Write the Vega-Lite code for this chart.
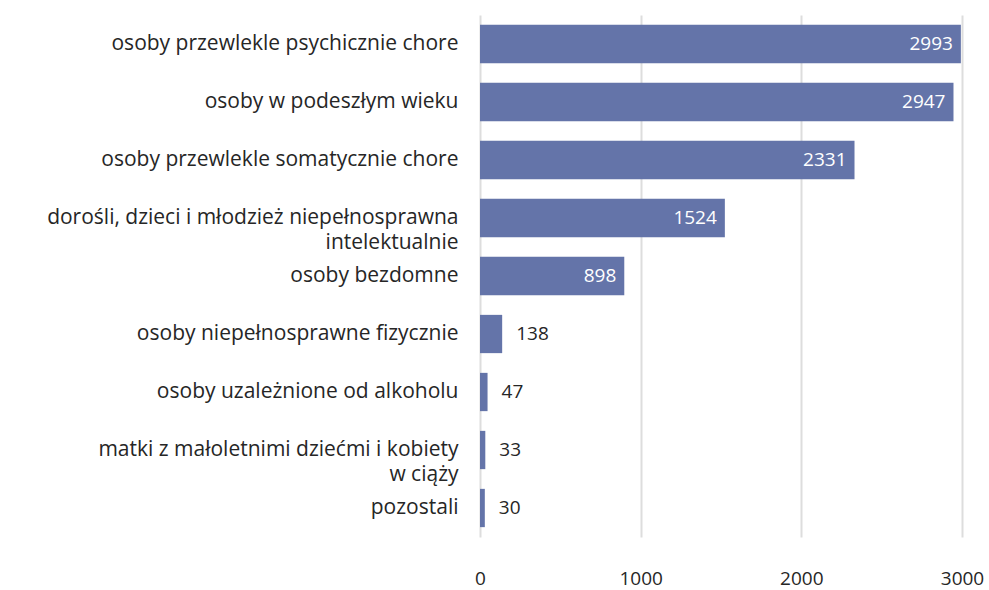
{
  "$schema": "https://vega.github.io/schema/vega-lite/v6.json",
  "autosize": {"type": "none"},
  "width": 482,
  "height": 522,
  "padding": {"left": 480, "top": 15, "right": 27, "bottom": 53},
  "background": "white",
  "config": {
    "view": {"stroke": null},
    "font": "Open Sans"
  },
  "data": {
    "values": [
      {"kat": "osoby przewlekle psychicznie chore", "v": 2993},
      {"kat": "osoby w podeszłym wieku", "v": 2947},
      {"kat": "osoby przewlekle somatycznie chore", "v": 2331},
      {"kat": "dorośli, dzieci i młodzież niepełnosprawna|intelektualnie", "v": 1524},
      {"kat": "osoby bezdomne", "v": 898},
      {"kat": "osoby niepełnosprawne fizycznie", "v": 138},
      {"kat": "osoby uzależnione od alkoholu", "v": 47},
      {"kat": "matki z małoletnimi dziećmi i kobiety|w ciąży", "v": 33},
      {"kat": "pozostali", "v": 30}
    ]
  },
  "encoding": {
    "y": {
      "field": "kat",
      "type": "nominal",
      "sort": [
        "osoby przewlekle psychicznie chore",
        "osoby w podeszłym wieku",
        "osoby przewlekle somatycznie chore",
        "dorośli, dzieci i młodzież niepełnosprawna|intelektualnie",
        "osoby bezdomne",
        "osoby niepełnosprawne fizycznie",
        "osoby uzależnione od alkoholu",
        "matki z małoletnimi dziećmi i kobiety|w ciąży",
        "pozostali"
      ],
      "scale": {"paddingInner": 0.34, "paddingOuter": 0.17},
      "axis": {
        "title": null,
        "domain": false,
        "ticks": false,
        "labelPadding": 22,
        "labelFontSize": 21,
        "labelColor": "#262626",
        "labelLimit": 480,
        "labelLineHeight": 25,
        "labelExpr": "split(datum.label, '|')"
      }
    },
    "x": {
      "field": "v",
      "type": "quantitative",
      "scale": {"domain": [0, 3000], "nice": false},
      "axis": {
        "title": null,
        "domain": false,
        "ticks": false,
        "values": [0, 1000, 2000, 3000],
        "format": "d",
        "labelPadding": 32,
        "labelFontSize": 19,
        "labelColor": "#262626",
        "gridColor": "#dddddd",
        "gridWidth": 2,
        "labelFlush": false
      }
    }
  },
  "layer": [
    {"mark": {"type": "bar", "color": "#6474a9"}},
    {
      "transform": [{"filter": "datum.v > 500"}],
      "mark": {"type": "text", "align": "right", "dx": -8, "color": "white", "fontSize": 19, "baseline": "middle"},
      "encoding": {"text": {"field": "v", "type": "quantitative", "format": "d"}}
    },
    {
      "transform": [{"filter": "datum.v <= 500"}],
      "mark": {"type": "text", "align": "left", "dx": 14, "color": "#262626", "fontSize": 19, "baseline": "middle"},
      "encoding": {"text": {"field": "v", "type": "quantitative", "format": "d"}}
    }
  ]
}
